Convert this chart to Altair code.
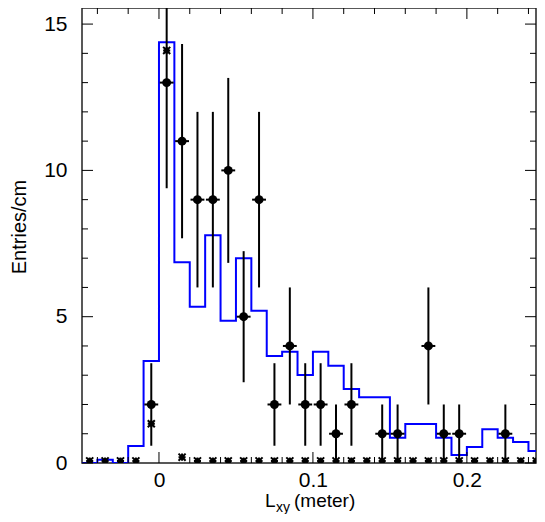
import altair as alt
import pandas as pd

FONT = "Liberation Sans"

# ---- data points (bin centres, entries/cm, vertical error) ----
pt_x = [-0.005, 0.005, 0.015, 0.025, 0.035, 0.045, 0.055, 0.065, 0.075, 0.085,
        0.095, 0.105, 0.115, 0.125, 0.145, 0.155, 0.175, 0.185, 0.195, 0.225]
pt_y = [2, 13, 11, 9, 9, 10, 5, 9, 2, 4, 2, 2, 1, 2, 1, 1, 4, 1, 1, 1]
pt_err = [1.41, 3.61, 3.32, 3.0, 3.0, 3.16, 2.24, 3.0, 1.41, 2.0,
          1.41, 1.41, 1.0, 1.41, 1.0, 1.0, 2.0, 1.0, 1.0, 1.0]
half_bin = 0.0045

# ---- blue histogram (bin left edges and contents) ----
hist_edges = [-0.05, -0.04, -0.03, -0.02, -0.01, 0.0, 0.01, 0.02, 0.03, 0.04,
              0.05, 0.06, 0.07, 0.08, 0.09, 0.10, 0.11, 0.12, 0.13, 0.14,
              0.15, 0.16, 0.17, 0.18, 0.19, 0.20, 0.21, 0.22, 0.23, 0.24, 0.25]
hist_vals = [0.0, 0.11, 0.0, 0.58, 3.49, 14.38, 6.86, 5.34, 7.78, 4.86,
             7.0, 5.2, 3.66, 3.80, 3.01, 3.80, 3.32, 2.53, 2.25, 2.25,
             0.86, 1.33, 1.33, 0.86, 0.27, 0.55, 1.15, 0.86, 0.72, 0.41, 0.41]

# ---- star markers ----
star_x = [-0.045, -0.035, -0.025, -0.015, -0.005, 0.005, 0.015, 0.025, 0.035, 0.045,
          0.055, 0.065, 0.075, 0.085, 0.095, 0.105, 0.115, 0.125, 0.135, 0.145,
          0.155, 0.165, 0.175, 0.185, 0.195, 0.205, 0.215, 0.225, 0.235, 0.245]
star_y = [0.07, 0.07, 0.07, 0.07, 1.34, 14.1, 0.2, 0.07, 0.07, 0.07,
          0.07, 0.07, 0.07, 0.07, 0.07, 0.07, 0.07, 0.07, 0.07, 0.07,
          0.07, 0.07, 0.07, 0.07, 0.07, 0.07, 0.07, 0.07, 0.07, 0.07]

# ---- axis ticks ----
x_major = [0.0, 0.1, 0.2]
x_minor = [-0.04, -0.02, 0.02, 0.04, 0.06, 0.08, 0.12, 0.14, 0.16, 0.18, 0.22, 0.24]
y_major = [0, 5, 10, 15]
y_minor = [1, 2, 3, 4, 6, 7, 8, 9, 11, 12, 13, 14]

W, H = 454, 455
xs = alt.Scale(domain=[-0.05, 0.2449], nice=False, zero=False)
ys = alt.Scale(domain=[0, 15.55], nice=False, zero=False)

xaxis = alt.Axis(values=x_major, format="~g", ticks=False, tickSize=0, domain=False,
                 grid=False, labelPadding=6, labelFontSize=21, labelFont=FONT,
                 labelColor="black", title=None, labelOverlap=False, labelFlush=False)
yaxis = alt.Axis(values=y_major, format="d", ticks=False, tickSize=0, domain=False,
                 grid=False, labelPadding=15, labelFontSize=21, labelFont=FONT,
                 labelColor="black", title=None, labelOverlap=False, labelFlush=False)

def X(field):
    return alt.X(field, scale=xs, axis=xaxis)

def Y(field):
    return alt.Y(field, scale=ys, axis=yaxis)

pts = pd.DataFrame({"x": pt_x, "y": pt_y, "err": pt_err})
pts["lo"] = pts["y"] - pts["err"]
pts["hi"] = pts["y"] + pts["err"]
pts["xl"] = pts["x"] - half_bin
pts["xh"] = pts["x"] + half_bin

hist = pd.DataFrame({"x": hist_edges, "y": hist_vals})
stars = pd.DataFrame({"x": star_x, "y": star_y})

hist_line = alt.Chart(hist).mark_line(
    interpolate="step-after", color="#0000ff", strokeWidth=2, clip=True
).encode(x=X("x:Q"), y=Y("y:Q"))

vbars = alt.Chart(pts).mark_rule(color="black", strokeWidth=2, clip=True).encode(
    x=X("x:Q"), y=Y("lo:Q"), y2="hi:Q")
hbars = alt.Chart(pts).mark_rule(color="black", strokeWidth=2, clip=True).encode(
    x=X("xl:Q"), x2="xh:Q", y=Y("y:Q"))
dots = alt.Chart(pts).mark_point(
    filled=True, color="black", size=80, opacity=1, clip=True
).encode(x=X("x:Q"), y=Y("y:Q"))

star_path = "M-1,-1L1,1M-1,1L1,-1M-1,0L1,0M0,-1L0,1"
star_marks = alt.Chart(stars).mark_point(
    shape=star_path, filled=False, color="black", strokeWidth=2, size=50,
    opacity=1, clip=True
).encode(x=X("x:Q"), y=Y("y:Q"))

def xticks(vals, length):
    df = pd.DataFrame({"x": vals})
    base = alt.Chart(df).mark_rule(color="black", strokeWidth=1)
    bot = base.encode(x=X("x:Q"), y=alt.value(H), y2=alt.value(H - length))
    top = base.encode(x=X("x:Q"), y=alt.value(0), y2=alt.value(length))
    return [bot, top]

def yticks(vals, length):
    df = pd.DataFrame({"y": vals})
    base = alt.Chart(df).mark_rule(color="black", strokeWidth=1)
    left = base.encode(y=Y("y:Q"), x=alt.value(0), x2=alt.value(length))
    right = base.encode(y=Y("y:Q"), x=alt.value(W), x2=alt.value(W - length))
    return [left, right]

tick_layers = xticks(x_major, 11) + xticks(x_minor, 6) + yticks(y_major, 11) + yticks(y_minor, 6)

one = pd.DataFrame({"a": [0]})
ytitle = alt.Chart(one).mark_text(
    text="Entries/cm", angle=270, align="center", baseline="middle",
    font=FONT, fontSize=20, color="black"
).encode(x=alt.value(-62), y=alt.value(219))
xt_L = alt.Chart(one).mark_text(
    text="L", align="left", baseline="alphabetic", font=FONT, fontSize=19, color="black"
).encode(x=alt.value(183), y=alt.value(499))
xt_sub = alt.Chart(one).mark_text(
    text="xy", align="left", baseline="alphabetic", font=FONT, fontSize=14, color="black"
).encode(x=alt.value(194), y=alt.value(504))
xt_rest = alt.Chart(one).mark_text(
    text="(meter)", align="left", baseline="alphabetic", font=FONT, fontSize=19, color="black"
).encode(x=alt.value(212), y=alt.value(499))

chart = alt.layer(
    hist_line, vbars, hbars, dots, star_marks, *tick_layers,
    ytitle, xt_L, xt_sub, xt_rest
).properties(
    width=W, height=H,
    autosize=alt.AutoSizeParams(type="none"),
    padding={"left": 74, "top": 0, "right": 1, "bottom": 51},
).configure_view(stroke="#222222", strokeWidth=1.5)

chart.save("out.html", embed_options={"renderer": "svg", "actions": False})
